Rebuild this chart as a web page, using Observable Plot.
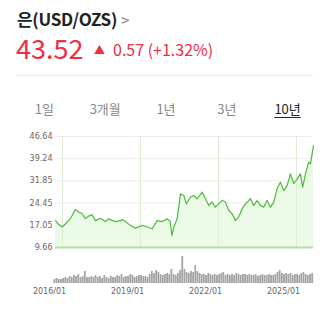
<!DOCTYPE html>
<html><head><meta charset="utf-8">
<script src="https://cdn.jsdelivr.net/npm/d3@7"></script>
<script src="https://cdn.jsdelivr.net/npm/@observablehq/plot@0.6"></script>
<style>
html,body{margin:0;padding:0;background:#fff;width:326px;height:313px;overflow:hidden;font-family:"Noto Sans CJK KR","Noto Sans",sans-serif;}
#wrap{position:relative;width:326px;height:313px;}
.abs{position:absolute;white-space:nowrap;line-height:1;}
#title{left:17px;top:10px;font-size:17px;font-weight:700;color:#222;letter-spacing:-0.3px;}
#title span{font-weight:400;color:#888;font-size:15px;margin-left:4px;}
#price{left:16px;top:34px;font-size:27px;color:#eb2f45;}
#arrow{left:94px;top:44px;font-size:11px;color:#eb2f45;}
#chg{left:113px;top:41px;font-size:16px;color:#eb2f45;}
#rule{left:17px;top:75px;width:296px;height:1px;background:#e8e8e8;}
#tabs{left:14px;top:102px;width:304px;display:flex;}
#tabs div{flex:1;text-align:center;font-size:13px;color:#888;}
#tabs div.sel{color:#222;text-decoration:underline;text-underline-offset:3px;}
#main{left:0;top:128px;}
#vol{left:0;top:256px;}
</style></head>
<body><div id="wrap">
<div id="title" class="abs">은(USD/OZS)<span>&gt;</span></div>
<div id="price" class="abs">43.52</div>
<div id="arrow" class="abs">▲</div>
<div id="chg" class="abs">0.57 (+1.32%)</div>
<div id="rule" class="abs"></div>
<div id="tabs" class="abs"><div>1일</div><div>3개월</div><div>1년</div><div>3년</div><div class="sel">10년</div></div>
<div id="main" class="abs"></div>
<div id="vol" class="abs"></div>
</div>
<script>
const priceDates = ["2015-09-24","2015-11-05","2015-12-28","2016-02-08","2016-04-21","2016-07-01","2016-08-15","2016-10-04","2016-11-16","2017-01-10","2017-02-21","2017-04-07","2017-06-17","2017-08-26","2017-10-08","2018-01-15","2018-03-25","2018-04-18","2018-06-10","2018-08-13","2018-10-22","2019-01-25","2019-04-05","2019-06-14","2019-08-23","2019-11-01","2020-01-10","2020-02-20","2020-03-18","2020-04-13","2020-05-30","2020-07-16","2020-08-31","2020-10-05","2020-12-02","2021-01-18","2021-03-07","2021-05-16","2021-07-01","2021-08-17","2021-10-04","2021-11-17","2022-01-04","2022-02-21","2022-04-08","2022-05-26","2022-07-12","2022-08-26","2022-10-12","2022-11-29","2023-01-14","2023-02-10","2023-03-25","2023-05-11","2023-06-27","2023-08-13","2023-09-28","2023-11-14","2024-01-01","2024-02-17","2024-04-04","2024-05-20","2024-07-06","2024-08-22","2024-10-08","2024-11-24","2025-01-11","2025-02-25","2025-03-29","2025-05-08","2025-06-21","2025-07-16","2025-08-28"];
const priceValues = [18.6,17.4,16.5,17.5,19.3,22.3,21.5,20.9,19.3,20.2,20.6,18.6,19.4,18.3,19.2,18.3,18.6,19.0,18.2,17.0,16.1,17.0,16.5,15.9,18.6,18.3,19.2,18.5,13.7,16.5,19.2,27.5,27.0,24.2,26.4,27.0,25.9,28.1,25.9,23.7,24.8,23.1,24.2,25.3,24.8,22.0,20.9,18.7,19.8,22.6,24.2,24.8,25.9,23.7,25.3,23.7,23.1,25.3,23.1,24.8,29.2,31.4,28.6,30.3,34.2,30.9,32.5,34.2,29.8,34.2,38.1,37.5,43.52];
const yTicks = [9.66,17.05,24.45,31.85,39.24,46.64];
const xTicks = ["2016-01-01","2019-01-01","2022-01-01","2025-01-01"];
const volStart = "2015-09-01";
const volumes = [4,5,4,4,
 5,6,5,7,6,8,7,9,6,7,12,6,
 6,7,6,8,6,7,5,8,6,5,7,6,
 6,8,7,9,6,7,7,9,8,6,7,8,
 8,7,7,6,9,12,10,13,11,9,8,9,
 10,9,14,9,8,10,13,30,14,11,10,12,
 11,18,12,10,9,9,8,10,9,8,9,8,
 9,10,11,8,9,8,9,8,10,9,8,9,
 9,8,9,8,8,9,7,8,9,8,8,9,
 8,8,9,11,13,10,9,10,9,10,8,9,
 9,8,10,11,9,8,9,10];

const parse = d3.utcParse("%Y-%m-%d");
const prices = priceDates.map((d,i)=>({date:parse(d), v:priceValues[i]}));
const vStart = parse(volStart);
const vols = volumes.map((v,i)=>({date:d3.utcMonth.offset(vStart,i), v}));
const gridDates = xTicks.map(parse);
const xDomain = [prices[0].date, prices[prices.length-1].date];
const font = "DejaVu Sans";

const main = Plot.plot({
  width:326, height:127, marginTop:8, marginBottom:8, marginLeft:55, marginRight:13,
  style:{fontFamily:font, fontSize:"8px", color:"#666", background:"transparent"},
  x:{type:"utc", domain:xDomain, axis:null},
  y:{domain:[yTicks[0], yTicks[yTicks.length-1]], axis:null},
  marks:[
    Plot.ruleY(yTicks.slice(1), {stroke:"#ececec"}),
    Plot.ruleX(gridDates, {stroke:"#e6e6e6"}),
    Plot.areaY(prices, {x:"date", y1:yTicks[0], y2:"v", fill:"#eafbe5", fillOpacity:0.9}),
    Plot.ruleX(gridDates, {stroke:"#dbeed5"}),
    Plot.lineY(prices, {x:"date", y:"v", stroke:"#4cbb3a", strokeWidth:1.2}),
    Plot.ruleY([yTicks[0]], {stroke:"#b9d8b1", strokeWidth:2}),
    Plot.axisY({ticks:yTicks, tickFormat:d=>d.toFixed(2), tickSize:0, tickPadding:3, fill:"#666", label:null})
  ]
});
document.getElementById("main").appendChild(main);

const vol = Plot.plot({
  width:326, height:45, marginTop:0, marginBottom:18, marginLeft:55, marginRight:13,
  style:{fontFamily:font, fontSize:"8px", color:"#666", background:"transparent"},
  x:{type:"utc", domain:xDomain, axis:null},
  y:{domain:[0,27], axis:null},
  marks:[
    Plot.rectY(vols, {x:"date", interval:"month", y:"v", fill:"#a3a3a3", insetLeft:0.2, insetRight:0.2}),
    Plot.axisX({ticks:gridDates, tickFormat:d3.utcFormat("%Y/%m"), tickSize:0, tickPadding:5, dx:-13, fill:"#666", label:null})
  ]
});
document.getElementById("vol").appendChild(vol);
</script>
</body></html>
